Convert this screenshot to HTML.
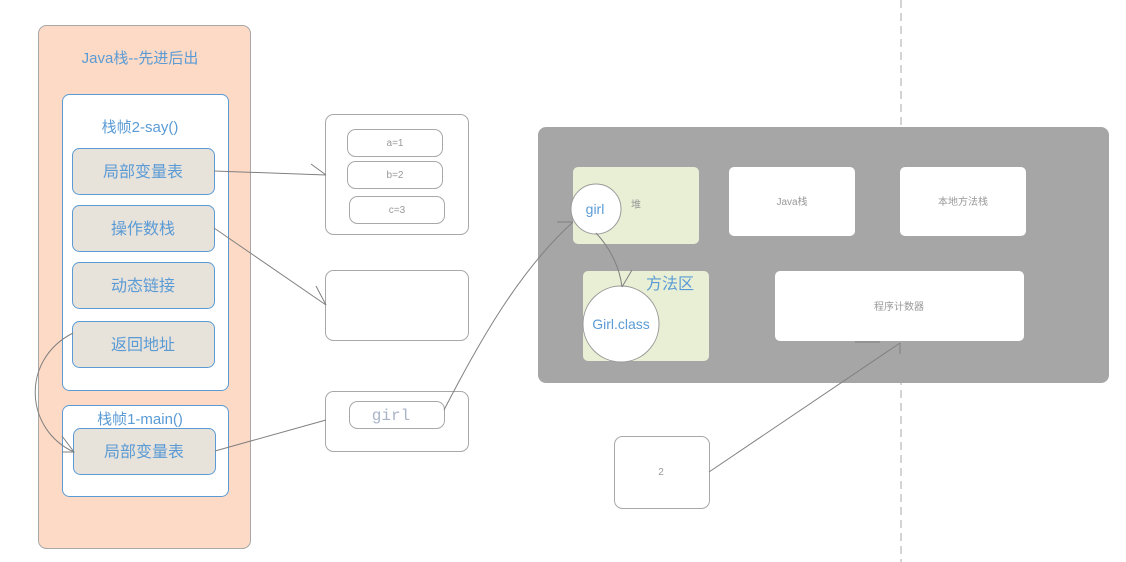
<!DOCTYPE html>
<html><head><meta charset="utf-8"><style>
html,body{margin:0;padding:0;background:#fff;}
svg{display:block;}
text{font-family:"Liberation Sans","Noto Sans CJK SC",sans-serif;}
</style></head><body>
<svg width="1126" height="562" viewBox="0 0 1126 562" xmlns="http://www.w3.org/2000/svg">
<line x1="901" y1="0" x2="901" y2="562" stroke="#aaa" stroke-dasharray="8,5" stroke-width="1"/>
<rect x="38.5" y="25.5" width="212" height="523" rx="8" fill="#fddac5" stroke="#a8a8a8"/>
<text x="140" y="63" font-size="15" fill="#5b9bd5" text-anchor="middle">Java栈--先进后出</text>
<rect x="62.5" y="94.5" width="166" height="296" rx="7" fill="#fff" stroke="#5b9bd5"/>
<text x="140" y="132" font-size="15" fill="#5b9bd5" text-anchor="middle">栈帧2-say()</text>
<g fill="#e7e2da" stroke="#5b9bd5">
<rect x="72.5" y="148.5" width="142" height="46" rx="7"/>
<rect x="72.5" y="205.5" width="142" height="46" rx="7"/>
<rect x="72.5" y="262.5" width="142" height="46" rx="7"/>
<rect x="72.5" y="321.5" width="142" height="46" rx="7"/>
</g>
<g font-size="16" fill="#5b9bd5" text-anchor="middle">
<text x="143" y="177">局部变量表</text>
<text x="143" y="234">操作数栈</text>
<text x="143" y="291">动态链接</text>
<text x="143" y="350">返回地址</text>
</g>
<rect x="62.5" y="405.5" width="166" height="91" rx="7" fill="#fff" stroke="#5b9bd5"/>
<text x="140" y="424" font-size="15" fill="#5b9bd5" text-anchor="middle">栈帧1-main()</text>
<rect x="73.5" y="428.5" width="142" height="46" rx="7" fill="#e7e2da" stroke="#5b9bd5"/>
<text x="144" y="457" font-size="16" fill="#5b9bd5" text-anchor="middle">局部变量表</text>
<g fill="#fff" stroke="#a8a8a8">
<rect x="325.5" y="114.5" width="143" height="120" rx="8"/>
<rect x="347.5" y="129.5" width="95" height="27" rx="8"/>
<rect x="347.5" y="161.5" width="95" height="27" rx="8"/>
<rect x="349.5" y="196.5" width="95" height="27" rx="8"/>
<rect x="325.5" y="270.5" width="143" height="70" rx="8"/>
<rect x="325.5" y="391.5" width="143" height="60" rx="8"/>
<rect x="349.5" y="401.5" width="95" height="27" rx="8"/>
<rect x="614.5" y="436.5" width="95" height="72" rx="8"/>
</g>
<g font-size="10" fill="#999" text-anchor="middle">
<text x="395" y="146">a=1</text>
<text x="395" y="178">b=2</text>
<text x="397" y="213">c=3</text>
<text x="661" y="475">2</text>
</g>
<text x="391" y="420" font-size="16" fill="#aab4c8" text-anchor="middle" style="font-family:'Liberation Mono',monospace">girl</text>
<rect x="538" y="127" width="571" height="256" rx="8" fill="#a6a6a6"/>
<rect x="573" y="167" width="126" height="77" rx="5" fill="#e8efd5"/>
<rect x="729" y="167" width="126" height="69" rx="5" fill="#fff"/>
<rect x="900" y="167" width="126" height="69" rx="5" fill="#fff"/>
<rect x="583" y="271" width="126" height="90" rx="5" fill="#e8efd5"/>
<rect x="775" y="271" width="249" height="70" rx="5" fill="#fff"/>
<g font-size="10" fill="#999" text-anchor="middle">
<text x="636" y="208">堆</text>
<text x="792" y="205">Java栈</text>
<text x="963" y="205">本地方法栈</text>
<text x="899" y="310">程序计数器</text>
</g>
<text x="670" y="289" font-size="16" fill="#5b9bd5" text-anchor="middle">方法区</text>
<ellipse cx="621" cy="324" rx="38" ry="38" fill="#fff" stroke="#999"/>
<text x="621" y="329" font-size="14" fill="#5b9bd5" text-anchor="middle">Girl.class</text>
<circle cx="596" cy="209" r="25" fill="#fff" stroke="#999"/>
<text x="595" y="214" font-size="14" fill="#5b9bd5" text-anchor="middle">girl</text>
<g fill="none" stroke="#808080" stroke-width="1">
<path d="M214 171 L326 175"/><path d="M311 164 L326 175"/>
<path d="M214 228 L326 305"/><path d="M316 286 L326 305"/>
<path d="M73 333 C20 360 25 430 74 452"/><path d="M62 436 L74 452 L62 452"/>
<path d="M215 451 L326 420"/>
<path d="M444 410 C480 340 520 270 573 222"/><path d="M557 222 L573 222"/>
<path d="M596 233 C612 250 620 270 622 287"/><path d="M632 270 L622 287"/>
<path d="M709 472 L900 343"/><path d="M900 343 L900 354"/><path d="M855 342 L880 342"/>
</g>
</svg>
</body></html>
